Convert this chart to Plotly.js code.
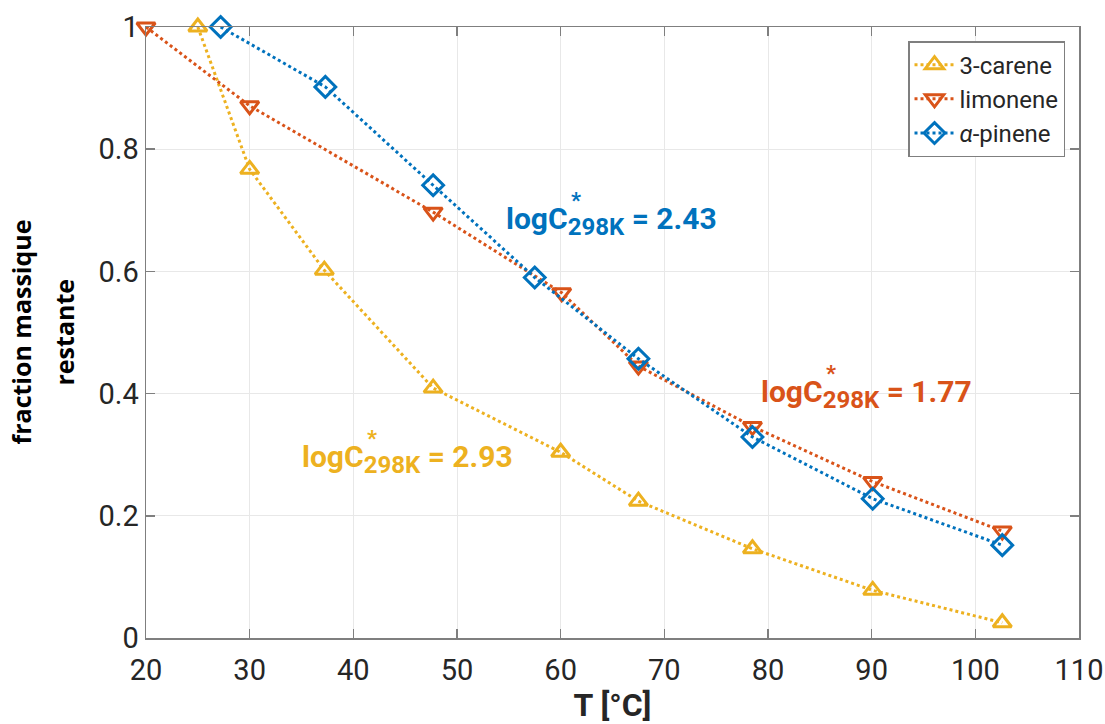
<!DOCTYPE html>
<html>
<head>
<meta charset="utf-8">
<script src="https://cdn.plot.ly/plotly-3.0.1.min.js"></script>
<style>html,body{margin:0;padding:0;background:#fff;}#chart{width:1105px;height:724px;}</style>
</head>
<body>
<div id="chart"></div>
<script>
// Data
const careneT = [25, 30, 37.2, 47.7, 60, 67.5, 78.5, 90.1, 102.6];
const careneF = [1.0, 0.767, 0.602, 0.409, 0.304, 0.224, 0.146, 0.078, 0.025];

const limoneneT = [20, 30, 47.7, 60.1, 67.5, 78.5, 90.1, 102.6];
const limoneneF = [1.0, 0.871, 0.697, 0.565, 0.445, 0.346, 0.256, 0.175];

const pineneT = [27.2, 37.3, 47.7, 57.5, 67.5, 78.5, 90.1, 102.6];
const pineneF = [1.0, 0.902, 0.741, 0.590, 0.457, 0.329, 0.228, 0.152];

const seriesNames = ['3-carene', 'limonene', '<i>α</i>-pinene'];
const xTicks = [20, 30, 40, 50, 60, 70, 80, 90, 100, 110];
const yTicks = [0, 0.2, 0.4, 0.6, 0.8, 1];
const yTickText = ['0', '0.2', '0.4', '0.6', '0.8', '1'];

const cY = '#EDB120', cO = '#D95319', cB = '#0072BD';

function tr(x, y, name, color, symbol) {
  return {
    x: x, y: y, name: name, type: 'scatter', mode: 'lines+markers',
    cliponaxis: false,
    line: {color: color, dash: 'dot', width: 3},
    marker: {symbol: symbol, size: 16, color: color, line: {color: color, width: 3}}
  };
}

const data = [
  tr(careneT, careneF, seriesNames[0], cY, 'triangle-up-open'),
  tr(limoneneT, limoneneF, seriesNames[1], cO, 'triangle-down-open'),
  tr(pineneT, pineneF, seriesNames[2], cB, 'diamond-open')
];

const tickFont = {family: 'Roboto, Arial, sans-serif', size: 29, color: '#262626'};

const axisCommon = {
  showline: true, linecolor: '#7f7f7f', linewidth: 1.5, mirror: 'ticks',
  ticks: 'inside', ticklen: 9, tickwidth: 1.5, tickcolor: '#7f7f7f',
  showgrid: true, gridcolor: '#e8e8e8', gridwidth: 1, zeroline: false,
  tickfont: tickFont
};

function label(x, y, val, color) {
  return [
    {x: x, y: y, xref: 'x', yref: 'y', showarrow: false, xanchor: 'center', yanchor: 'middle',
     text: '<b>logC<sub><span style="font-size:24px">298K</span></sub> = ' + val + '</b>',
     font: {family: 'Roboto, Arial, sans-serif', size: 30, color: color}},
    {x: x, y: y, xref: 'x', yref: 'y', showarrow: false, xanchor: 'center', yanchor: 'middle',
     xshift: -35, yshift: 20,
     text: '<b>*</b>',
     font: {family: 'Roboto, Arial, sans-serif', size: 22, color: color}}
  ];
}

const layout = {
  width: 1105, height: 724,
  margin: {l: 146, r: 26, t: 27, b: 86},
  paper_bgcolor: '#ffffff', plot_bgcolor: '#ffffff',
  showlegend: true,
  legend: {
    x: 0.985, y: 0.977, xanchor: 'right', yanchor: 'top',
    bgcolor: '#ffffff', bordercolor: '#7f7f7f', borderwidth: 1.5,
    font: {family: 'Roboto, Arial, sans-serif', size: 24, color: '#262626'},
    tracegroupgap: 0, itemwidth: 40
  },
  xaxis: Object.assign({}, axisCommon, {
    range: [20, 110], tickvals: xTicks, ticktext: xTicks.map(String),
    ticklabelstandoff: 6,
    title: {text: '<b>T [°C]</b>', standoff: 8,
      font: {family: 'Roboto, Arial, sans-serif', size: 32, color: '#262626'}}
  }),
  yaxis: Object.assign({}, axisCommon, {
    range: [0, 1], tickvals: yTicks, ticktext: yTickText
  }),
  annotations: [
    {x: 0, y: 0.5, xref: 'paper', yref: 'paper', xshift: -126, showarrow: false,
     textangle: -90, xanchor: 'center', yanchor: 'middle',
     text: '<b>fraction massique</b>',
     font: {family: 'Open Sans, sans-serif', size: 25, color: '#000000'}},
    {x: 0, y: 0.5, xref: 'paper', yref: 'paper', xshift: -83, showarrow: false,
     textangle: -90, xanchor: 'center', yanchor: 'middle',
     text: '<b>restante</b>',
     font: {family: 'Open Sans, sans-serif', size: 25, color: '#000000'}}
  ].concat(label(64.9, 0.683, '2.43', cB), label(89.5, 0.40, '1.77', cO), label(45.2, 0.293, '2.93', cY))
};

Plotly.newPlot('chart', data, layout, {displayModeBar: false, staticPlot: true});
</script>
</body>
</html>
